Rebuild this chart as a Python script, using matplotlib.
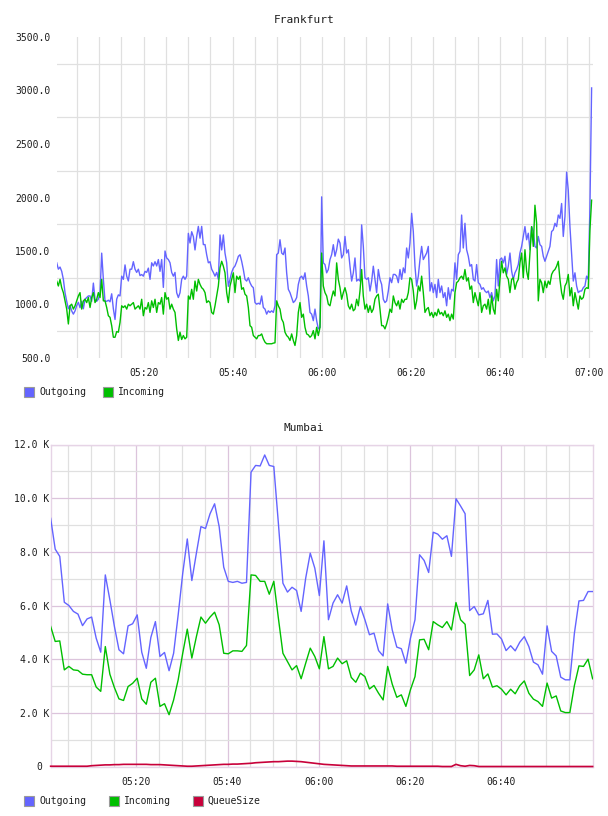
import matplotlib
matplotlib.use('Agg')
import matplotlib.pyplot as plt
import matplotlib.dates as mdates
from matplotlib.patches import Rectangle
from matplotlib.ticker import FixedLocator, FuncFormatter
import pandas as pd

# ---------------- data ----------------
DAY = '2020-01-01 '
SERIES = ['Outgoing', 'Incoming', 'QueueSize']

FR_START = '05:00:30'
FR_STEP = '22440ms'
FR_XTICKS = ['05:20', '05:40', '06:00', '06:20', '06:40', '07:00']
FR_YTICKS = [500, 1000, 1500, 2000, 2500, 3000, 3500]

FR_OUT = [
    1390, 1330, 1350, 1310, 1235, 1110, 1030, 960, 990, 940,
    910, 940, 990, 1020, 970, 1030, 960, 1050, 1065, 1080,
    1080, 1030, 1200, 1050, 1030, 1050, 1110, 1480, 1235, 1030,
    1030, 1040, 1025, 1100, 960, 860, 1050, 1090, 1080, 1265,
    1235, 1370, 1265, 1220, 1330, 1330, 1400, 1330, 1300, 1330,
    1270, 1280, 1265, 1310, 1300, 1340, 1235, 1390, 1360, 1400,
    1360, 1420, 1310, 1420, 1160, 1500, 1435, 1420, 1390, 1300,
    1265, 1300, 1110, 1065, 1110, 1235, 1265, 1235, 1265, 1665,
    1575, 1680, 1635, 1510, 1635, 1730, 1620, 1730, 1560, 1560,
    1465, 1390, 1400, 1330, 1300, 1265, 1300, 1235, 1650, 1510,
    1650, 1480, 1390, 1170, 1235, 1300, 1340, 1360, 1400, 1450,
    1465,
    1404, 1327, 1235, 1219, 1250, 1204, 1173, 1157, 1018, 1003,
    1012, 1003, 1080, 972, 957, 910, 941, 926, 941, 926,
    988, 1466, 1481, 1605, 1481, 1466, 1528, 1296, 1142, 1111,
    1065, 1018, 1034, 1065, 1188, 1250, 1265, 1235, 1296, 1173,
    1080, 926, 910, 849, 957, 849, 772, 787, 2006, 1389,
    1373, 1296, 1327, 1420, 1466, 1559, 1451, 1512, 1611, 1574,
    1435, 1466, 1636, 1481, 1512, 1358, 1219, 1296, 1435, 1219,
    1235, 1219, 1744, 1543, 1250, 1235, 1250, 1126, 1219, 1358,
    1235, 1111, 1327, 1235, 1188, 1049, 1018, 1034, 1126, 1250,
    1204, 1281, 1281, 1265, 1204, 1327, 1235, 1342, 1296, 1528,
    1435, 1574, 1852, 1682, 1358, 1173, 1265, 1420,
    1543, 1420, 1451, 1481, 1543, 1126, 1204, 1111, 1188, 1065,
    1235, 1111, 1173, 1065, 1111, 988, 1157, 1049, 1142, 1126,
    1389, 1235, 1466, 1497, 1836, 1528, 1759, 1512, 1451, 1358,
    1373, 1235, 1219, 1373, 1204, 1188, 1142, 1157, 1126, 1111,
    1126, 1065, 1111, 1034, 1080, 1420, 1173, 1420, 1435, 1389,
    1451, 1281, 1358, 1481, 1312, 1235, 1296, 1327, 1373, 1481,
    1543, 1636, 1728, 1605, 1666, 1512, 1728, 1682, 1543, 1528,
    1636, 1559, 1543, 1451, 1404, 1451, 1497, 1543, 1682, 1697,
    1759, 1728, 1836, 1805, 1944, 1636, 1821, 2237, 2067, 1728,
    1481, 1219, 1296, 1173, 1111, 1126, 1126, 1157, 1173, 1265,
    1235, 1913, 3024,
]

FR_IN = [
    1219, 1173, 1235, 1157, 1111, 1034, 957, 818, 988, 1003,
    957, 988, 1034, 1080, 1111, 957, 1034, 1049, 1018, 1065,
    972, 1065, 1111, 1018, 1049, 1111, 1065, 1235, 1034, 1034,
    972, 895, 880, 802, 694, 694, 747, 741, 833, 988,
    972, 988, 957, 1003, 988, 1003, 1018, 957, 972, 988,
    957, 1049, 895, 972, 957, 1018, 926, 1034, 972, 1049,
    926, 1018, 1003, 1065, 910, 1111, 1049, 1065, 957, 1003,
    957, 926, 772, 664, 741, 673, 710, 679, 694, 1080,
    1049, 1142, 1049, 1219, 1126, 1235, 1188, 1157, 1142, 1111,
    1018, 1034, 1018, 926, 910, 988, 1080, 1173, 1342, 1404,
    1358, 1296, 1111, 1018, 1173, 1235, 1296, 1111, 1265, 1235,
    1265,
    1142, 1157, 1096, 1080, 972, 802, 787, 710, 694, 679,
    710, 710, 725, 679, 648, 633, 633, 633, 633, 639,
    642, 1034, 988, 957, 864, 833, 741, 710, 694, 664,
    725, 664, 617, 710, 926, 1018, 880, 910, 787, 725,
    716, 694, 710, 756, 679, 787, 710, 787, 1481, 1173,
    1111, 1080, 1003, 988, 1065, 1126, 1080, 1389, 1235, 1157,
    1049, 1111, 1157, 1096, 988, 957, 1003, 941, 957, 1049,
    988, 1126, 1327, 1080, 957, 1003, 926, 988, 926, 957,
    1049, 1080, 1096, 957, 802, 802, 772, 818, 880, 957,
    926, 1080, 1018, 988, 1034, 957, 1049, 1018, 1049, 1049,
    1111, 1250, 1235, 1126, 957, 1034, 1173, 1126,
    1265, 1111, 926, 957, 972, 895, 926, 880, 926, 895,
    957, 910, 926, 895, 941, 880, 910, 849, 910, 864,
    1111, 1204, 1219, 1250, 1265, 1235, 1327, 1219, 1250, 1142,
    1173, 1018, 1111, 1049, 988, 1111, 926, 988, 1003, 957,
    1049, 910, 1080, 957, 910, 1142, 1034, 1235, 1404, 1296,
    1342, 1265, 1235, 1111, 1235, 1250, 1142, 1204, 1235, 1389,
    1481, 1250, 1512, 1312, 1235, 1481, 1728, 1543, 1928, 1759,
    1034, 1235, 1204, 1111, 1219, 1157, 1219, 1188, 1281, 1312,
    1327, 1358, 1404, 1235, 1111, 1049, 1173, 1204, 1281, 1080,
    1157, 988, 1111, 1034, 957, 1080, 1049, 1065, 1142, 1157,
    1150, 1697, 1975,
]

MU_START = '05:01:10'
MU_STEP = '1min'
MU_XTICKS = ['05:20', '05:40', '06:00', '06:20', '06:40']
MU_YTICKS = [0, 2000, 4000, 6000, 8000, 10000, 12000]

MU_OUT = [
    9250, 8100, 7830, 6120, 6000, 5780, 5680, 5250, 5500, 5570,
    4780, 4260, 7140, 6210, 5220, 4350, 4200, 5240, 5320, 5650,
    4260, 3660, 4810, 5400, 4100, 4250, 3570, 4220, 5650, 7200,
    8480, 6930, 7950, 8940, 8870, 9420, 9790, 8940, 7430, 6900,
    6860, 6900, 6830, 6860, 10970, 11220, 11200, 11610, 11220, 11180,
    9070, 6830, 6500, 6680, 6560, 5780, 7020, 7950, 7390, 6370,
    8410, 5470, 6090, 6400, 6090, 6730, 5800, 5270, 5960, 5470,
    4910, 4970, 4320, 4120, 6060, 5090, 4450, 4390, 3850, 4780,
    5470, 7890, 7680, 7230, 8730, 8660, 8470, 8600, 7830, 9980,
    9710, 9420, 5810, 5960, 5650, 5690, 6190, 4930, 4940, 4750,
    4320, 4500, 4310, 4630, 4840, 4470, 3890, 3790, 3440, 5240,
    4290, 4120, 3330, 3230, 3230, 4970, 6170, 6190, 6520, 6520,
]

MU_IN = [
    5220, 4660, 4680, 3600, 3730, 3600, 3580, 3440, 3420, 3420,
    2960, 2800, 4470, 3440, 2940, 2520, 2460, 2980, 3100, 3290,
    2520, 2320, 3140, 3290, 2240, 2340, 1930, 2480, 3230, 4220,
    5120, 4040, 4840, 5570, 5340, 5570, 5750, 5280, 4220, 4200,
    4310, 4310, 4290, 4510, 7140, 7120, 6900, 6900, 6420, 6900,
    5530, 4220, 3910, 3600, 3760, 3270, 3850, 4410, 4100, 3640,
    4840, 3640, 3730, 4040, 3830, 3940, 3320, 3140, 3480, 3350,
    2890, 3020, 2730, 2480, 3730, 3070, 2580, 2670, 2240, 2860,
    3350, 4720, 4740, 4350, 5400, 5280, 5180, 5400, 5090, 6110,
    5470, 5300, 3390, 3600, 4160, 3270, 3450, 2960, 3010, 2880,
    2670, 2880, 2710, 3010, 3190, 2730, 2510, 2420, 2240, 3110,
    2550, 2630, 2070, 2010, 2010, 3020, 3750, 3730, 4000, 3270,
]

MU_QUEUE = [
    10, 10, 10, 10, 10, 10, 10, 10, 10,
    30, 40, 50, 60, 60, 70,
    70, 80, 80, 80, 80, 80, 80, 70, 70, 70, 60,
    50, 40, 30, 20, 10, 10,
    20, 30, 40, 50, 60,
    70, 80, 80, 90, 90, 100, 110, 120,
    140, 150, 160, 170, 180, 180,
    190, 200, 200, 190,
    180, 160, 140, 120, 100, 80,
    70, 60, 50, 40, 30,
    20, 20, 20, 20, 20, 20, 20, 20, 20, 20,
    10, 10, 10, 10, 10, 10, 10, 10, 10, 10,
    0, 0, 0,
    80,
    30, 10, 40, 30,
    0, 0, 0, 0, 0, 0, 0, 0, 0, 0, 0, 0, 0,
    0, 0, 0, 0, 0, 0, 0, 0, 0, 0, 0, 0, 0,
]

# ---------------- style ----------------
BLUE = '#6464ff'
GREEN = '#00bf00'
RED = '#c8003a'
TXT = '#1e1e1e'
GRID = '#e0e0e0'
PURPLE = '#dcc4dc'
SPINE = '#e6d4e6'

plt.rcParams['font.family'] = ['DejaVu Sans Mono', 'DejaVu Sans']
plt.rcParams['font.size'] = 7
plt.rcParams['text.color'] = TXT
plt.rcParams['xtick.color'] = TXT
plt.rcParams['ytick.color'] = TXT

W, H = 608, 816
fig = plt.figure(figsize=(W / 100, H / 100), dpi=100)
fig.patch.set_facecolor('white')


def fx(px):
    return px / W


def fy(py):
    return 1 - py / H


def ts(hm):
    return pd.Timestamp(DAY + hm)


# ---------------- Frankfurt ----------------
fr_t = pd.date_range(DAY + FR_START, periods=len(FR_OUT), freq=FR_STEP)
ax1 = fig.add_axes([fx(56.7), fy(358), fx(593 - 56.7), (358 - 37) / H])
ax1.plot(fr_t, FR_OUT, color=BLUE, lw=1.0, zorder=3)
ax1.plot(fr_t, FR_IN, color=GREEN, lw=1.0, zorder=4)
ax1.set_xlim(ts('05:00:30'), ts('07:00:52'))
ax1.set_ylim(FR_YTICKS[0], FR_YTICKS[-1])
ax1.xaxis.set_major_locator(FixedLocator(mdates.date2num([ts(t) for t in FR_XTICKS])))
ax1.xaxis.set_major_formatter(mdates.DateFormatter('%H:%M'))
ax1.xaxis.set_minor_locator(mdates.MinuteLocator(byminute=range(0, 60, 5)))
ax1.yaxis.set_major_locator(FixedLocator(FR_YTICKS))
ax1.yaxis.set_major_formatter(FuncFormatter(lambda v, p: f'{v:.1f}'))
ax1.yaxis.set_minor_locator(FixedLocator([v + 250 for v in FR_YTICKS[:-1]]))
ax1.grid(which='both', axis='x', color=GRID, lw=0.9, zorder=0)
ax1.grid(which='minor', axis='y', color=GRID, lw=0.9, zorder=0)
ax1.grid(which='major', axis='y', visible=False)
for s in ax1.spines.values():
    s.set_visible(False)
ax1.tick_params(which='both', length=0)
ax1.tick_params(axis='y', pad=4.5)
ax1.tick_params(axis='x', pad=7.5)
ax1.set_axisbelow(True)
fig.text(fx(304), fy(20), 'Frankfurt', ha='center', va='center', fontsize=8)

# ---------------- Mumbai ----------------
mu_t = pd.date_range(DAY + MU_START, periods=len(MU_OUT), freq=MU_STEP)
ax2 = fig.add_axes([fx(50.5), fy(766.5), fx(593 - 50.5), (766.5 - 444.5) / H])
ax2.plot(mu_t, MU_OUT, color=BLUE, lw=1.0, zorder=3)
ax2.plot(mu_t, MU_IN, color=GREEN, lw=1.0, zorder=4)
ax2.plot(mu_t, MU_QUEUE, color=RED, lw=1.2, zorder=5, clip_on=False)
ax2.set_xlim(ts('05:01:08'), ts('07:00:15'))
ax2.set_ylim(MU_YTICKS[0], MU_YTICKS[-1])
ax2.xaxis.set_major_locator(FixedLocator(mdates.date2num([ts(t) for t in MU_XTICKS])))
ax2.xaxis.set_major_formatter(mdates.DateFormatter('%H:%M'))
ax2.xaxis.set_minor_locator(mdates.MinuteLocator(byminute=[5, 10, 15, 25, 30, 35, 45, 50, 55]))
ax2.yaxis.set_major_locator(FixedLocator(MU_YTICKS))
ax2.yaxis.set_major_formatter(FuncFormatter(lambda v, p: '0 ' if v == 0 else f'{v / 1000:.1f} K'))
ax2.yaxis.set_minor_locator(FixedLocator([v + 1000 for v in MU_YTICKS[:-1]]))
ax2.grid(which='minor', color=GRID, lw=0.9, zorder=0)
ax2.grid(which='major', color=PURPLE, lw=0.9, zorder=1)
for s in ax2.spines.values():
    s.set_color(SPINE)
    s.set_linewidth(1.0)
ax2.tick_params(which='both', length=0)
ax2.tick_params(axis='y', pad=1)
ax2.tick_params(axis='x', pad=7.5)
ax2.set_axisbelow(True)
fig.text(fx(304), fy(428), 'Mumbai', ha='center', va='center', fontsize=8)


# ---------------- legends ----------------
def legend(items, yc):
    for (label, color, sx, tx) in items:
        r = Rectangle((fx(sx), fy(yc + 5)), 10 / W, 10 / H, facecolor=color,
                      edgecolor='#9a9a9a', lw=0.8, transform=fig.transFigure)
        fig.add_artist(r)
        fig.text(fx(tx), fy(yc), label, ha='left', va='center', fontsize=7)


legend([(SERIES[0], BLUE, 24, 39), (SERIES[1], GREEN, 103, 118)], 392)
legend([(SERIES[0], BLUE, 24, 39), (SERIES[1], GREEN, 108.5, 124),
        (SERIES[2], RED, 193, 207)], 800.5)

fig.savefig('out.png', dpi=100, facecolor='white')
